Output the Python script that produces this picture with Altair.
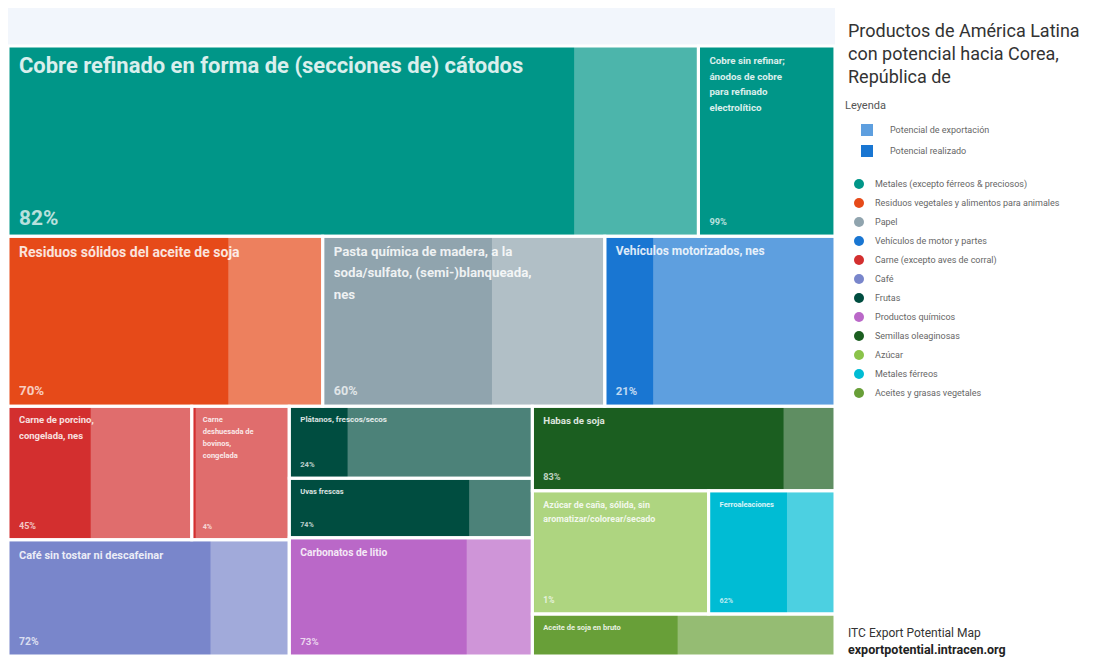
import altair as alt
import pandas as pd
import math

# ---------------- data ----------------
categories = [
    "Metales (excepto férreos & preciosos)",
    "Residuos vegetales y alimentos para animales",
    "Papel",
    "Vehículos de motor y partes",
    "Carne (excepto aves de corral)",
    "Café",
    "Frutas",
    "Productos químicos",
    "Semillas oleaginosas",
    "Azúcar",
    "Metales férreos",
    "Aceites y grasas vegetales",
]
cat_colors = [
    "#009688", "#e64a19", "#90a4ae", "#1976d2", "#d32f2f", "#7986cb",
    "#004d40", "#ba68c8", "#1b5e20", "#8bc34a", "#00bcd4", "#689f38",
]

products = [
    "Cobre refinado en forma de (secciones de) cátodos",
    "Cobre sin refinar;\nánodos de cobre\npara refinado\nelectrolítico",
    "Residuos sólidos del aceite de soja",
    "Pasta química de madera, a la\nsoda/sulfato, (semi-)blanqueada,\nnes",
    "Vehículos motorizados, nes",
    "Carne de porcino,\ncongelada, nes",
    "Carne\ndeshuesada de\nbovinos,\ncongelada",
    "Café sin tostar ni descafeinar",
    "Plátanos, frescos/secos",
    "Uvas frescas",
    "Carbonatos de litio",
    "Habas de soja",
    "Azúcar de caña, sólida, sin\naromatizar/colorear/secado",
    "Ferroaleaciones",
    "Aceite de soja en bruto",
]
product_category = [0, 0, 1, 2, 3, 4, 4, 5, 6, 6, 7, 8, 9, 10, 11]
potential = [1324, 262, 540, 484, 395, 247, 131, 330, 176, 146, 290, 258, 219, 157, 128]
realized = [82, 99, 70, 60, 21, 45, 4, 72, 24, 74, 73, 83, 1, 62, 48]

legend_kinds = ["Potencial de exportación", "Potencial realizado"]

title_text = "Productos de América Latina\ncon potencial hacia Corea,\nRepública de"
footer_1 = "ITC Export Potential Map"
footer_2 = "exportpotential.intracen.org"

# nesting of the treemap (v = stacked rows, h = side by side)
layout_tree = ("v", [
    ("h", [0, 1]),
    ("h", [2, 3, 4]),
    ("h", [
        ("v", [("h", [5, 6]), 7]),
        ("v", [8, 9, 10]),
        ("v", [11, ("h", [12, 13]), 14]),
    ]),
])

# ---------------- layout (derived from values) ----------------
def node_value(n):
    if isinstance(n, int):
        return potential[n]
    return sum(node_value(c) for c in n[1])

pos = {}

def do_layout(n, x0, y0, x1, y1):
    if isinstance(n, int):
        pos[n] = (x0, y0, x1, y1)
        return
    orient, children = n
    tot = node_value(n)
    cur = x0 if orient == "h" else y0
    for c in children:
        v = node_value(c)
        if orient == "h":
            nx = cur + (x1 - x0) * v / tot
            do_layout(c, cur, y0, nx, y1)
            cur = nx
        else:
            ny = cur + (y1 - y0) * v / tot
            do_layout(c, x0, cur, x1, ny)
            cur = ny

do_layout(layout_tree, 0.0, 0.0, 1.0, 1.0)

W, H = 1090, 649
TX0, TX1 = 0, 827
TY0, TY1 = 38, 648
PXW, PXH = TX1 - TX0, TY1 - TY0

xs = alt.Scale(domain=[0, 1], range=[TX0, TX1])
ys = alt.Scale(domain=[0, 1], range=[TY0, TY1])

rect_rows, name_rows, pct_rows = [], [], []
for i, p in enumerate(products):
    x0, y0, x1, y1 = pos[i]
    wpx, hpx = (x1 - x0) * PXW, (y1 - y0) * PXH
    cat = categories[product_category[i]]
    rect_rows.append(dict(producto=p.replace("\n", " "), categoria=cat,
                          x0=x0, x1=x1, xr=x0 + (x1 - x0) * realized[i] / 100,
                          y0=y0, y1=y1))
    fs = max(7.5, min(22.0, math.sqrt(wpx * hpx) / 16.5))
    lh = fs * 1.6
    for j, line in enumerate(p.split("\n")):
        name_rows.append(dict(tx=x0 + 11 / PXW, ty=y0 + (10 + j * lh) / PXH,
                              text=line, fs=fs))
    if hpx > 50:
        pct_rows.append(dict(tx=x0 + 11 / PXW, ty=y1 - 11 / PXH,
                             text=f"{realized[i]}%", fs=fs * 0.95))

rects = pd.DataFrame(rect_rows)
light = rects.assign(tipo=legend_kinds[0])
dark = rects.assign(tipo=legend_kinds[1])

color_enc = alt.Color(
    "categoria:N",
    scale=alt.Scale(domain=categories, range=cat_colors),
    legend=alt.Legend(
        title=None, orient="none", legendX=837, legendY=171,
        symbolType="circle", symbolSize=100, symbolOffset=9, labelOffset=11,
        symbolStrokeWidth=0, labelFont="Roboto", labelFontSize=9,
        labelColor="#666", rowPadding=9, padding=0, labelLimit=300,
    ),
)
opacity_enc = alt.Opacity(
    "tipo:N",
    scale=alt.Scale(domain=legend_kinds, range=[0.7, 1.0]),
    legend=alt.Legend(
        title="Leyenda", orient="none", legendX=837, legendY=92,
        symbolType="square", symbolSize=144, symbolFillColor="#1976d2",
        symbolStrokeWidth=0, symbolOffset=16, labelOffset=17,
        labelFont="Roboto", labelFontSize=9, labelColor="#666",
        titleFont="Roboto", titleFontSize=11, titleFontWeight="normal",
        titleColor="#555", titlePadding=13, rowPadding=9, padding=0,
    ),
)

band = alt.Chart(pd.DataFrame({"a": [0]})).mark_rect(color="#f2f6fc").encode(
    x=alt.value(TX0), x2=alt.value(TX1), y=alt.value(0), y2=alt.value(TY0)
)

light_layer = alt.Chart(light).mark_rect().encode(
    x=alt.X("x0:Q", scale=xs, axis=None), x2="x1:Q",
    y=alt.Y("y0:Q", scale=ys, axis=None), y2="y1:Q",
    color=color_enc, opacity=opacity_enc,
)
dark_layer = alt.Chart(dark).mark_rect().encode(
    x=alt.X("x0:Q", scale=xs, axis=None), x2="xr:Q",
    y=alt.Y("y0:Q", scale=ys, axis=None), y2="y1:Q",
    color=color_enc, opacity=opacity_enc,
)
outline = alt.Chart(rects).mark_rect(fill="transparent", stroke="white", strokeWidth=3).encode(
    x=alt.X("x0:Q", scale=xs, axis=None), x2="x1:Q",
    y=alt.Y("y0:Q", scale=ys, axis=None), y2="y1:Q",
)

names = alt.Chart(pd.DataFrame(name_rows)).mark_text(
    align="left", baseline="top", font="Roboto", fontWeight="bold",
    color="white", opacity=0.85,
).encode(
    x=alt.X("tx:Q", scale=xs, axis=None), y=alt.Y("ty:Q", scale=ys, axis=None),
    text="text:N", size=alt.Size("fs:Q", scale=None),
)
pcts = alt.Chart(pd.DataFrame(pct_rows)).mark_text(
    align="left", baseline="alphabetic", font="Roboto", fontWeight="bold",
    color="white", opacity=0.72,
).encode(
    x=alt.X("tx:Q", scale=xs, axis=None), y=alt.Y("ty:Q", scale=ys, axis=None),
    text="text:N", size=alt.Size("fs:Q", scale=None),
)

title = alt.Chart(pd.DataFrame({"t": [title_text]})).mark_text(
    align="left", baseline="alphabetic", font="Roboto", fontSize=18,
    color="#333", lineBreak="\n", lineHeight=23,
).encode(x=alt.value(840), y=alt.value(29), text="t:N")

foot1 = alt.Chart(pd.DataFrame({"t": [footer_1]})).mark_text(
    align="left", baseline="alphabetic", font="Roboto", fontSize=12, color="#333",
).encode(x=alt.value(840), y=alt.value(629), text="t:N")
foot2 = alt.Chart(pd.DataFrame({"t": [footer_2]})).mark_text(
    align="left", baseline="alphabetic", font="Roboto", fontSize=12.5,
    fontWeight="bold", color="#222",
).encode(x=alt.value(840), y=alt.value(646), text="t:N")

chart = alt.layer(
    band, light_layer, dark_layer, outline, names, pcts, title, foot1, foot2
).properties(
    width=W, height=H, autosize=alt.AutoSizeParams(type="none"), padding=0,
).configure_view(stroke=None)

chart.save("out.html", embed_options={"renderer": "svg", "actions": False})
